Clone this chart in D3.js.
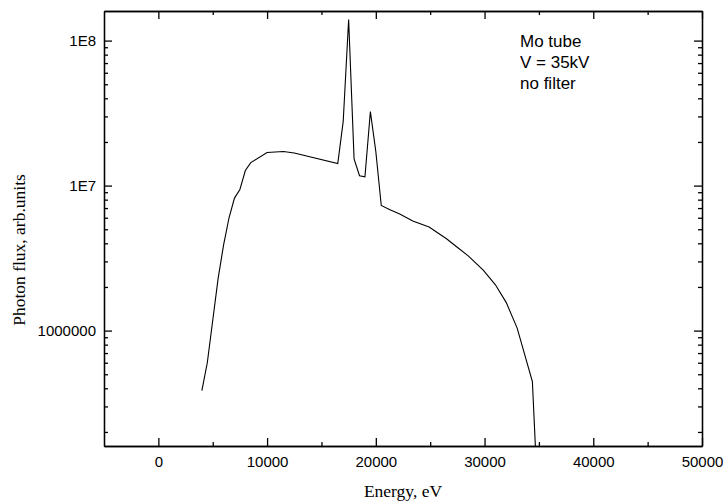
<!DOCTYPE html>
<html>
<head>
<meta charset="utf-8">
<script src="https://cdn.jsdelivr.net/npm/d3@7"></script>
<style>
    body { margin: 0; background: #fff; }
    svg { display: block; }
    .axis path, .axis line { stroke: #000; stroke-width: 1.3; }
    .axis text { font-family: "Liberation Sans", Arial, sans-serif; font-size: 15px; fill: #000; }
    .title { font-family: "Liberation Serif", "Times New Roman", serif; font-size: 17.5px; fill: #000; }
    .note { font-family: "Liberation Sans", Arial, sans-serif; font-size: 17px; fill: #000; }
</style>
</head>
<body>
<svg id="chart" width="724" height="501"></svg>
<script>
// spectrum: energy (eV) and photon flux (arb. units)
const energy = [4000, 4500, 5500, 6000, 6500, 7000, 7500, 8000, 8500, 10000,
    11500, 12500, 16500, 17000, 17500, 18000, 18500, 19000, 19500, 20000,
    20500, 21300, 22200, 23400, 24900, 26500, 27400, 28500, 29900, 31000,
    32000, 33000, 34400, 34800];
const flux = [3.85e5, 6.0e5, 2.3e6, 3.9e6, 6.0e6, 8.2e6, 9.4e6, 1.27e7, 1.44e7, 1.69e7,
    1.72e7, 1.68e7, 1.42e7, 2.77e7, 1.4e8, 1.53e7, 1.17e7, 1.15e7, 3.24e7, 1.72e7,
    7.29e6, 6.81e6, 6.37e6, 5.7e6, 5.18e6, 4.3e6, 3.8e6, 3.28e6, 2.6e6, 2.07e6,
    1.56e6, 1.04e6, 4.45e5, 1.0e5];

const xMajor = [0, 10000, 20000, 30000, 40000, 50000];
const xMinor = [5000, 15000, 25000, 35000, 45000];
const yMajor = [1e6, 1e7, 1e8];
const yLabels = ['1000000', '1E7', '1E8'];
const yMinor = [2, 3, 4, 5, 6, 7, 8, 9].flatMap(m => [m * 1e5, m * 1e6, m * 1e7]);
const notes = ['Mo tube', 'V = 35kV', 'no filter'];

const W = 724, H = 501;
const margin = { top: 11, right: 22, bottom: 55, left: 104 };
const innerW = W - margin.left - margin.right;
const innerH = H - margin.top - margin.bottom;

const svg = d3.select('#chart');
const g = svg.append('g').attr('transform', `translate(${margin.left},${margin.top})`);

const x = d3.scaleLinear().domain([-5000, 50000]).range([0, innerW]);
const y = d3.scaleLog().domain([1.6e5, 1.6e8]).range([innerH, 0]);

g.append('defs').append('clipPath').attr('id', 'clip')
    .append('rect').attr('width', innerW).attr('height', innerH);

// axes: ticks point inward, mirrored on top/right
const fmtY = v => yLabels[yMajor.indexOf(v)];

g.append('g').attr('class', 'axis').attr('transform', `translate(0,${innerH})`)
    .call(d3.axisBottom(x).tickValues(xMajor).tickSize(-8).tickPadding(10).tickSizeOuter(0).tickFormat(d3.format('d')));
g.append('g').attr('class', 'axis').attr('transform', `translate(0,${innerH})`)
    .call(d3.axisBottom(x).tickValues(xMinor).tickSize(-4).tickSizeOuter(0).tickFormat(''));
g.append('g').attr('class', 'axis')
    .call(d3.axisTop(x).tickValues(xMajor).tickSize(-8).tickSizeOuter(0).tickFormat(''));
g.append('g').attr('class', 'axis')
    .call(d3.axisTop(x).tickValues(xMinor).tickSize(-4).tickSizeOuter(0).tickFormat(''));

g.append('g').attr('class', 'axis')
    .call(d3.axisLeft(y).tickValues(yMajor).tickSize(-8).tickPadding(8).tickSizeOuter(0).tickFormat(fmtY));
g.append('g').attr('class', 'axis')
    .call(d3.axisLeft(y).tickValues(yMinor).tickSize(-4).tickSizeOuter(0).tickFormat(''));
g.append('g').attr('class', 'axis').attr('transform', `translate(${innerW},0)`)
    .call(d3.axisRight(y).tickValues(yMajor).tickSize(-8).tickSizeOuter(0).tickFormat(''));
g.append('g').attr('class', 'axis').attr('transform', `translate(${innerW},0)`)
    .call(d3.axisRight(y).tickValues(yMinor).tickSize(-4).tickSizeOuter(0).tickFormat(''));

// spectrum line
const line = d3.line()
    .x((d, i) => x(energy[i]))
    .y(d => y(d));

g.append('path')
    .datum(flux)
    .attr('clip-path', 'url(#clip)')
    .attr('fill', 'none')
    .attr('stroke', '#000')
    .attr('stroke-width', 1.1)
    .attr('d', line);

// axis titles
svg.append('text').attr('class', 'title')
    .attr('x', margin.left + innerW / 2).attr('y', 497)
    .attr('text-anchor', 'middle')
    .text('Energy, eV');
svg.append('text').attr('class', 'title')
    .attr('transform', 'translate(25,250) rotate(-90)')
    .attr('text-anchor', 'middle')
    .text('Photon flux, arb.units');

// annotation
svg.append('g').selectAll('text')
    .data(notes)
    .enter().append('text')
    .attr('class', 'note')
    .attr('x', 520)
    .attr('y', (d, i) => 47 + i * 21)
    .text(d => d);
</script>
</body>
</html>
